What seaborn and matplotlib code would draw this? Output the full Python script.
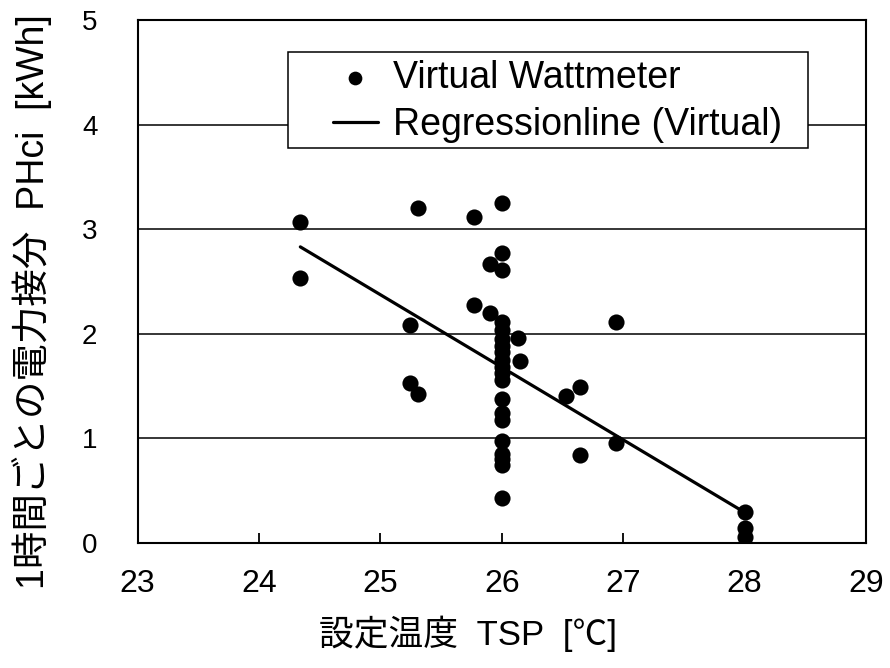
import matplotlib
matplotlib.use("Agg")
import matplotlib.pyplot as plt
from matplotlib import font_manager
from matplotlib.patches import Rectangle
import seaborn as sns
import pandas as pd

# Set-point temperature [°C] and hourly apportioned power [kWh]
set_temp = [24.34, 24.34, 25.31, 25.24, 25.24, 25.31, 25.77, 25.77, 25.90, 25.90,
            26.0, 26.0, 26.0,
            26.0, 26.0, 26.0, 26.0, 26.0, 26.0, 26.0, 26.0, 26.0,
            26.0, 26.0, 26.0, 26.0, 26.0, 26.0, 26.0, 26.0,
            26.13, 26.15, 26.53, 26.64, 26.64, 26.94, 26.94,
            28.0, 28.0, 28.0]
power = [3.07, 2.53, 3.20, 2.08, 1.53, 1.42, 3.12, 2.27, 2.67, 2.20,
         3.25, 2.77, 2.61,
         2.11, 2.03, 1.95, 1.88, 1.82, 1.75, 1.68, 1.62, 1.56,
         1.37, 1.24, 1.17, 0.97, 0.85, 0.80, 0.74, 0.43,
         1.96, 1.74, 1.40, 1.49, 0.84, 2.11, 0.95,
         0.29, 0.14, 0.05]

# Regression line end points
reg_temp = [24.34, 28.0]
reg_power = [2.83, 0.29]

x_ticks = [23, 24, 25, 26, 27, 28, 29]
y_ticks = [0, 1, 2, 3, 4, 5]

sns.set_theme(style="white")
available = {f.name for f in font_manager.fontManager.ttflist}
narrow = "Liberation Sans Narrow" if "Liberation Sans Narrow" in available else "Liberation Sans"
plt.rcParams["font.family"] = ["Liberation Sans", "Noto Sans CJK JP", "DejaVu Sans"]

df = pd.DataFrame({"temp": set_temp, "power": power})

fig = plt.figure(figsize=(8.9, 6.68), dpi=100)
ax = fig.add_axes([0.1547, 0.1876, 0.8183, 0.7824])

ax.set_xlim(23, 29)
ax.set_ylim(0, 5)
ax.set_xticks(x_ticks)
ax.set_yticks(y_ticks)
ax.yaxis.grid(True, color="black", linewidth=1.1, zorder=0.5)
ax.xaxis.grid(False)

sns.scatterplot(data=df, x="temp", y="power", ax=ax, color="black", s=135,
                linewidth=0, zorder=6, label="Virtual Wattmeter", legend=False)
sns.lineplot(x=reg_temp, y=reg_power, ax=ax, color="black", linewidth=2.3,
             zorder=5, label="Regressionline (Virtual)", legend=False)

for side in ["left", "right", "top", "bottom"]:
    ax.spines[side].set_visible(True)
    ax.spines[side].set_color("black")
    ax.spines[side].set_linewidth(1.5)

ax.tick_params(axis="y", length=0, pad=29, labelsize=20, colors="black")
ax.tick_params(axis="x", direction="in", length=7, width=1.3, pad=19,
               labelsize=23, colors="black", bottom=True, top=False)
for lbl in ax.get_xticklabels():
    lbl.set_fontfamily([narrow, "DejaVu Sans"])

ax.set_xlabel("設定温度  TSP  [℃]", fontsize=25,
              fontfamily=[narrow, "Noto Sans CJK JP", "DejaVu Sans"], color="black")
ax.set_ylabel("1時間ごとの電力接分  PHci  [kWh]", fontsize=27,
              fontfamily=["Liberation Sans", "Noto Sans CJK JP", "DejaVu Sans"], color="black")
ax.xaxis.label.set_va("center")
ax.yaxis.label.set_va("center")
ax.xaxis.set_label_coords(0.4535, -0.1747)
ax.yaxis.set_label_coords(-0.145, 0.4615)

# legend box
ax.add_patch(Rectangle((0.2064, 0.755), 0.7136, 0.184, transform=ax.transAxes,
                       facecolor="white", edgecolor="black", linewidth=1.1, zorder=4))
handles, labels = ax.get_legend_handles_labels()
leg = ax.legend(handles, labels, loc="center left", bbox_to_anchor=(0.268, 0.844),
                frameon=False, borderpad=0, borderaxespad=0, handlelength=1.2,
                handletextpad=0.4, fontsize=27, labelspacing=0.29, markerscale=0.85)
leg.set_zorder(7)
for t in leg.get_texts():
    t.set_color("black")

fig.savefig("out.png", dpi=100, facecolor="white")
